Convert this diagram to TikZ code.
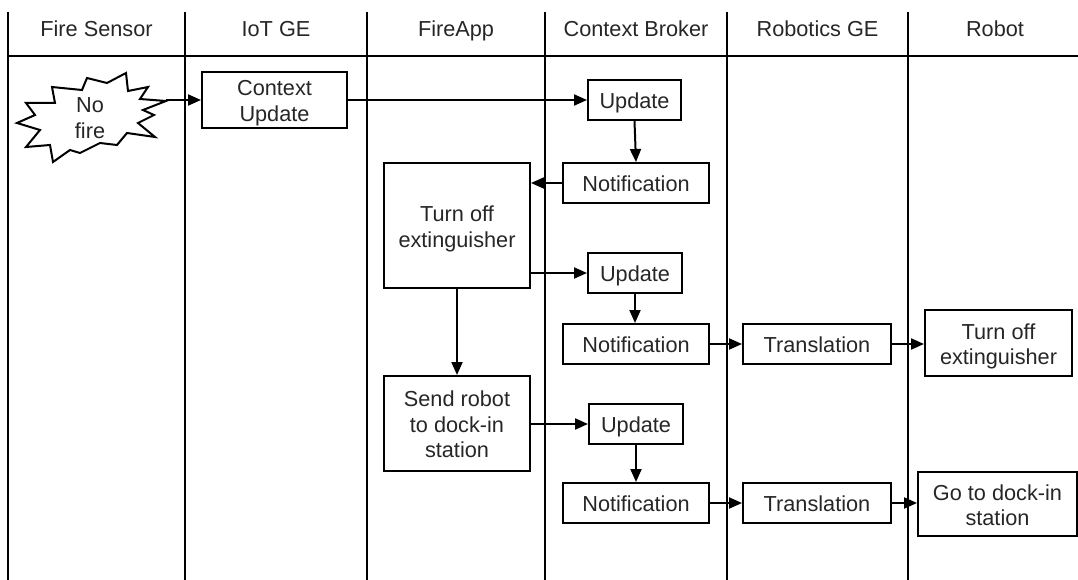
\documentclass[tikz,border=0pt]{standalone}
\usepackage{fontspec}
\setmainfont{Liberation Sans}
\usetikzlibrary{arrows.meta}
\begin{document}
\begin{tikzpicture}[x=1pt,y=-1pt,
  every node/.style={font=\fontsize{21.7}{25.5}\selectfont, text=black!85,
    text height=17.5pt, text depth=0pt},
  two/.style={text height=43pt},
  three/.style={text height=68.5pt},
  lane/.style={line width=2pt},
  box/.style={draw, line width=2pt, align=center, inner sep=0pt},
  arr/.style={line width=2pt, -{Triangle[length=13pt,width=11pt]}},
  burst/.style={draw, line width=2pt, line join=miter, fill=white}
]
\useasboundingbox (0,0) rectangle (1078,580);

% swimlane separators and header rule
\foreach \x in {8,185,367,545,727,908}
  \draw[lane] (\x,12) -- (\x,580);
\draw[lane] (8,56) -- (1078,56);

% lane titles
\node (h1) at (96.5,27.5) {Fire Sensor};
\node (h2) at (276,27.5) {IoT GE};
\node (h3) at (456,27.5) {FireApp};
\node (h4) at (636,27.5) {Context Broker};
\node (h5) at (817.5,27.5) {Robotics GE};
\node (h6) at (995,27.5) {Robot};

% "No fire" event burst
\draw[burst] (166,101) -- (140,99) -- (148,87) -- (128,91) -- (126,73) -- (107,83)
  -- (87,78) -- (82,90) -- (52,87) -- (55,103) -- (26,103) -- (35,115) -- (17,123)
  -- (40,130) -- (26,147) -- (50,145) -- (53,162) -- (70,150) -- (80,153)
  -- (100,143) -- (117,145) -- (127,133) -- (155,137) -- (138,123) -- (154,115)
  -- (143,110) -- cycle;
\coordinate (tip) at (166,100);
\node[align=center, two] (nofire) at (90,117) {No\\fire};

% process boxes
\node[box, two, minimum width=145pt, minimum height=56pt] (ctx) at (274.5,100) {Context\\Update};
\node[box, minimum width=93pt, minimum height=40pt] (u1) at (634.5,100) {Update};
\node[box, minimum width=146pt, minimum height=40pt] (n1) at (636,183) {Notification};
\node[box, two, minimum width=146pt, minimum height=125pt] (off) at (457,225.5) {Turn off\\extinguisher};
\node[box, minimum width=94pt, minimum height=40pt] (u2) at (635,273) {Update};
\node[box, minimum width=146pt, minimum height=40pt] (n2) at (636,344) {Notification};
\node[box, minimum width=148pt, minimum height=40pt] (t1) at (817,344) {Translation};
\node[box, two, minimum width=147pt, minimum height=66pt] (r1) at (998.5,343) {Turn off\\extinguisher};
\node[box, three, minimum width=146pt, minimum height=95pt] (send) at (457,423.5) {Send robot\\to dock-in\\station};
\node[box, minimum width=94pt, minimum height=40pt] (u3) at (636,424) {Update};
\node[box, minimum width=146pt, minimum height=40pt] (n3) at (636,503) {Notification};
\node[box, minimum width=148pt, minimum height=40pt] (t2) at (817,503) {Translation};
\node[box, two, minimum width=159pt, minimum height=64pt] (r2) at (997.5,504) {Go to dock-in\\station};

% message flow
\draw[arr] (tip) -- (ctx.west);
\draw[arr] (ctx.east) -- (u1.west);
\draw[arr] (u1.south) -- (n1.north);
\draw[arr] (n1.west) -- (n1.west -| off.east);
\draw[arr] (u2.west -| off.east) -- (u2.west);
\draw[arr] (u2.south) -- (u2.south |- n2.north);
\draw[arr] (n2.east) -- (t1.west);
\draw[arr] (t1.east) -- (t1.east -| r1.west);
\draw[arr] (off.south) -- (send.north);
\draw[arr] (u3.west -| send.east) -- (u3.west);
\draw[arr] (u3.south) -- (n3.north);
\draw[arr] (n3.east) -- (t2.west);
\draw[arr] (t2.east) -- (t2.east -| r2.west);
\end{tikzpicture}
\end{document}
